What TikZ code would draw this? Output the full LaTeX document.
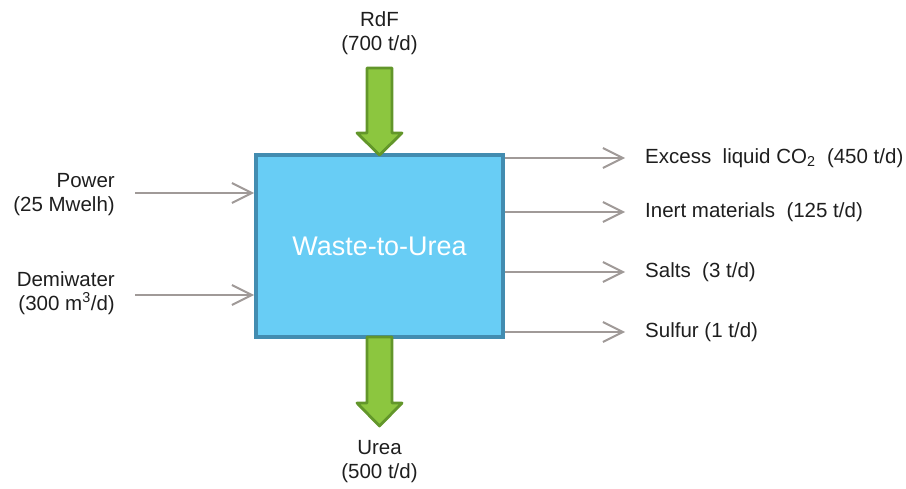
\documentclass[tikz,border=0pt]{standalone}
\usepackage{fontspec}
\setmainfont{Liberation Sans}
\usetikzlibrary{arrows.meta}

\definecolor{boxfill}{RGB}{104,205,245}
\definecolor{boxline}{RGB}{66,140,176}
\definecolor{feedfill}{RGB}{140,198,63}
\definecolor{feedline}{RGB}{98,150,42}
\definecolor{flowgray}{RGB}{160,154,152}
\definecolor{labeltext}{RGB}{30,30,30}

\tikzset{
    flow/.style={draw=flowgray, line width=1.7pt,
        -{Straight Barb[length=17pt, width=17pt, line width=1.7pt]}},
    lbl/.style={text=labeltext, font=\fontsize{17.5}{20.5}\selectfont, inner sep=0pt},
    bigarrow/.style={fill=feedfill, draw=feedline, line width=2.4pt, line join=round}
}

\begin{document}
\begin{tikzpicture}[x=0.03cm, y=-0.03cm]
    \useasboundingbox (0,0) rectangle (906,489);

    % Process block
    \node[draw=boxline, fill=boxfill, line width=3.4pt, minimum width=247*0.03cm,
        minimum height=182*0.03cm, inner sep=0pt, text=white,
        font=\fontsize{23}{27}\selectfont] (wtu) at (379.5,246) {Waste-to-Urea};

    % Feed and product (block arrows)
    \filldraw[bigarrow] (367,68) -- (392,68) -- (392,133) -- (402,133) -- (379.5,155)
        -- (357,133) -- (367,133) -- cycle;
    \filldraw[bigarrow] (367,337) -- (392,337) -- (392,403) -- (402,403) -- (379.5,426)
        -- (357,403) -- (367,403) -- cycle;
    \node[lbl, align=center] (rdf) at (379.5,33) {RdF\\(700 t/d)};
    \node[lbl, align=center] (urea) at (379.5,462) {Urea\\(500 t/d)};

    % Inputs
    \node[lbl, align=right, anchor=east] (power) at (115,195) {Power\\(25 Mwelh)};
    \node[lbl, align=right, anchor=east] (demi) at (115,293) {Demiwater\\(300 m\textsuperscript{3}/d)};
    \coordinate (pw) at (135,193);
    \coordinate (dw) at (135,295);
    \draw[flow] (pw) -- (pw -| wtu.west);
    \draw[flow] (dw) -- (dw -| wtu.west);

    % Outputs
    \node[lbl, anchor=west] (co2) at (645,158) {Excess\ \ liquid CO\textsubscript{2}\ \ (450 t/d)};
    \node[lbl, anchor=west] (inert) at (645,212) {Inert materials\ \ (125 t/d)};
    \node[lbl, anchor=west] (salts) at (645,272) {Salts\ \ (3 t/d)};
    \node[lbl, anchor=west] (sulfur) at (645,332) {Sulfur (1 t/d)};
    \foreach \out in {co2, inert, salts, sulfur}
        \draw[flow] (\out.west -| wtu.east) -- ([xshift=-20*0.03cm]\out.west);
\end{tikzpicture}
\end{document}
